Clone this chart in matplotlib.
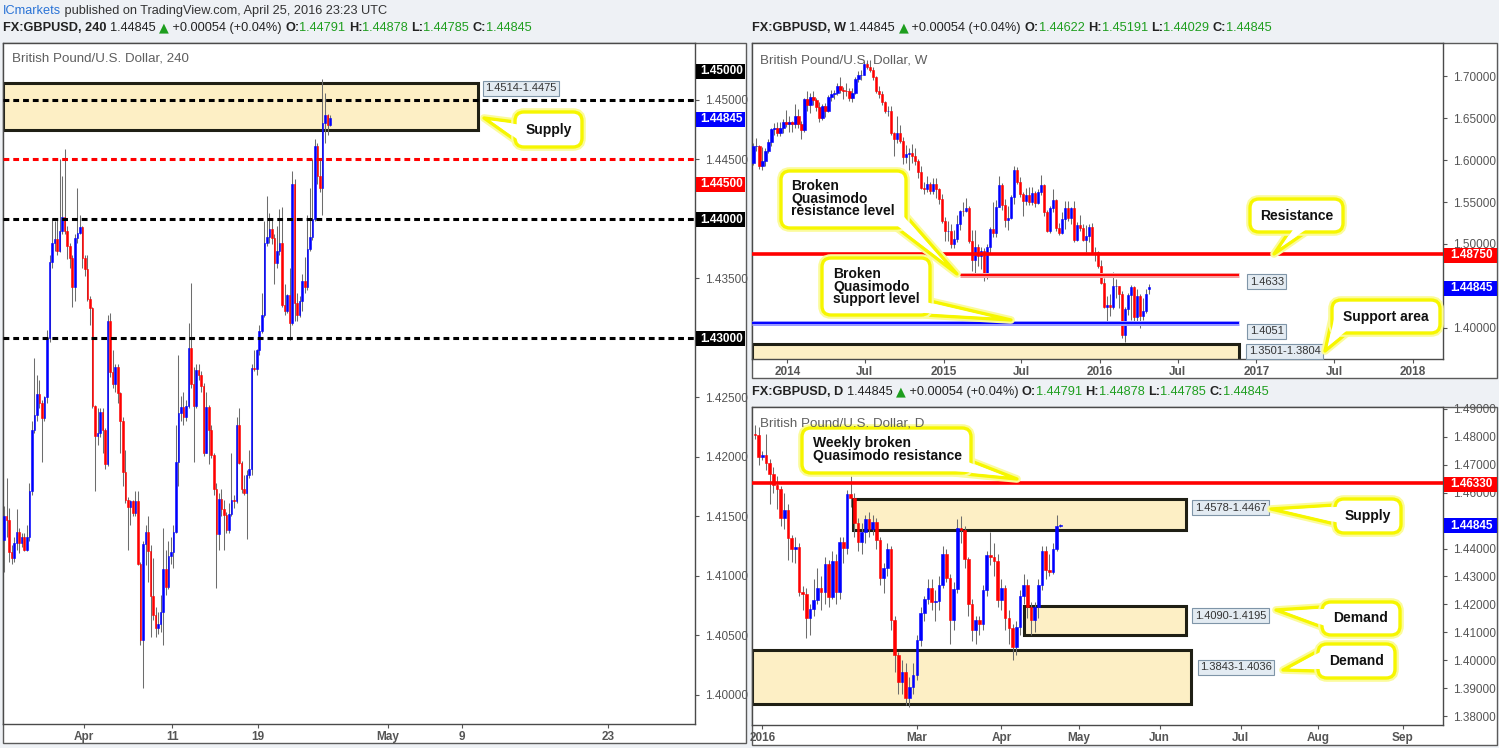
import numpy as np
import pandas as pd
import matplotlib
matplotlib.use('Agg')
import matplotlib.pyplot as plt
from matplotlib.patches import Rectangle, FancyBboxPatch, Polygon
import matplotlib.patheffects as pe

# ====================== DATA ======================
# ---- 4H chart (FX:GBPUSD, 240) ----
h4_first_open = 1.4130
h4_close = [1.4150, 1.4147, 1.4120, 1.4115, 1.4128, 1.4137, 1.4128, 1.4133, 1.4122, 1.4133,
            1.4171, 1.4223, 1.4235, 1.4253, 1.4245, 1.4233, 1.4250, 1.4300, 1.4364, 1.4380,
            1.4383, 1.4373, 1.4390, 1.4402, 1.4390, 1.4377, 1.4367, 1.4343, 1.4384, 1.4388,
            1.4393, 1.4367, 1.4358, 1.4333, 1.4325, 1.4243, 1.4218, 1.4220, 1.4238, 1.4223,
            1.4194, 1.4314, 1.4271, 1.4261, 1.4276, 1.4254, 1.4230, 1.4187, 1.4164, 1.4158,
            1.4163, 1.4153, 1.4163, 1.4110, 1.4046, 1.4127, 1.4137, 1.4121, 1.4083, 1.4067,
            1.4056, 1.4060, 1.4070, 1.4106, 1.4091, 1.4117, 1.4120, 1.4137, 1.4196, 1.4237,
            1.4242, 1.4234, 1.4243, 1.4292, 1.4261, 1.4243, 1.4273, 1.4269, 1.4260, 1.4203,
            1.4242, 1.4223, 1.4202, 1.4173, 1.4135, 1.4165, 1.4156, 1.4151, 1.4139, 1.4152,
            1.4164, 1.4163, 1.4227, 1.4195, 1.4173, 1.4170, 1.4185, 1.4190, 1.4275, 1.4274,
            1.4290, 1.4306, 1.4319, 1.4380, 1.4385, 1.4392, 1.4384, 1.4363, 1.4373, 1.4380,
            1.4328, 1.4323, 1.4336, 1.4313, 1.4429, 1.4329, 1.4319, 1.4331, 1.4348, 1.4343,
            1.4375, 1.4385, 1.4400, 1.4461, 1.4436, 1.4426, 1.4481, 1.4487, 1.44791, 1.44845]
h4_high = [1.4159, 1.4182, 1.4157, 1.4126, 1.4133, 1.4156, 1.4140, 1.4136, 1.4136, 1.4143,
           1.4178, 1.4230, 1.4283, 1.4269, 1.4265, 1.4248, 1.4251, 1.4307, 1.4370, 1.4401,
           1.4398, 1.4401, 1.4450, 1.4436, 1.4459, 1.4394, 1.4380, 1.4370, 1.4387, 1.4426,
           1.4403, 1.4394, 1.4370, 1.4370, 1.4335, 1.4326, 1.4244, 1.4241, 1.4241, 1.4241,
           1.4224, 1.4319, 1.4321, 1.4290, 1.4278, 1.4278, 1.4255, 1.4234, 1.4206, 1.4166,
           1.4164, 1.4164, 1.4171, 1.4171, 1.4112, 1.4129, 1.4143, 1.4150, 1.4126, 1.4115,
           1.4074, 1.4070, 1.4084, 1.4140, 1.4122, 1.4129, 1.4133, 1.4143, 1.4227, 1.4286,
           1.4251, 1.4255, 1.4248, 1.4313, 1.4346, 1.4276, 1.4278, 1.4278, 1.4272, 1.4262,
           1.4255, 1.4244, 1.4227, 1.4203, 1.4178, 1.4170, 1.4173, 1.4164, 1.4154, 1.4161,
           1.4203, 1.4168, 1.4234, 1.4241, 1.4197, 1.4185, 1.4189, 1.4206, 1.4278, 1.4290,
           1.4291, 1.4311, 1.4338, 1.4398, 1.4419, 1.4405, 1.4401, 1.4387, 1.4394, 1.4408,
           1.4410, 1.4345, 1.4337, 1.4359, 1.4440, 1.4434, 1.4338, 1.4335, 1.4354, 1.4368,
           1.4403, 1.4426, 1.4450, 1.4467, 1.4464, 1.4450, 1.4518, 1.4506, 1.4488, 1.44878]
h4_low = [1.4103, 1.4133, 1.4112, 1.4110, 1.4112, 1.4122, 1.4119, 1.4124, 1.4121, 1.4121,
          1.4129, 1.4168, 1.4220, 1.4230, 1.4241, 1.4196, 1.4230, 1.4245, 1.4297, 1.4359,
          1.4373, 1.4370, 1.4372, 1.4387, 1.4387, 1.4366, 1.4359, 1.4326, 1.4331, 1.4380,
          1.4387, 1.4359, 1.4352, 1.4331, 1.4311, 1.4241, 1.4171, 1.4210, 1.4217, 1.4203,
          1.4190, 1.4192, 1.4267, 1.4258, 1.4255, 1.4245, 1.4203, 1.4176, 1.4161, 1.4122,
          1.4143, 1.4150, 1.4150, 1.4109, 1.4042, 1.4006, 1.4109, 1.4095, 1.4049, 1.4063,
          1.4049, 1.4051, 1.4053, 1.4042, 1.4084, 1.4089, 1.4110, 1.4107, 1.4136, 1.4176,
          1.4230, 1.4227, 1.4230, 1.4241, 1.4258, 1.4196, 1.4241, 1.4265, 1.4255, 1.4201,
          1.4203, 1.4194, 1.4199, 1.4168, 1.4090, 1.4122, 1.4150, 1.4122, 1.4136, 1.4136,
          1.4150, 1.4157, 1.4161, 1.4194, 1.4170, 1.4168, 1.4131, 1.4182, 1.4185, 1.4272,
          1.4269, 1.4286, 1.4304, 1.4318, 1.4377, 1.4380, 1.4379, 1.4345, 1.4359, 1.4370,
          1.4326, 1.4319, 1.4321, 1.4298, 1.4311, 1.4314, 1.4314, 1.4318, 1.4323, 1.4338,
          1.4340, 1.4373, 1.4382, 1.4398, 1.4429, 1.4423, 1.4403, 1.4464, 1.4471, 1.44785]
h4_tick_pos = [31.7, 66.5, 100.5, 152.0, 181.2, 239.0]
h4_tick_labels = ['Apr', '11', '19', 'May', '9', '23']
h4_yticks = [1.400, 1.405, 1.410, 1.415, 1.420, 1.425, 1.430, 1.435, 1.440, 1.445, 1.450]
h4_levels = [1.4500, 1.4450, 1.4400, 1.4300]
h4_level_colors = ['#000000', '#ff0000', '#000000', '#000000']
h4_supply = (1.4475, 1.4514)
h4_tags = [(1.45252, '1.45000', '#000000'), (1.44845, '1.44845', '#0000ff'),
           (1.4430, '1.44500', '#ff0000'), (1.4400, '1.44000', '#000000'),
           (1.4300, '1.43000', '#000000')]

# ---- Weekly chart ----
wk_start = '2013-10-14'
wk_first_open = 1.5965
wk_last_open = 1.44622
wk_close = [1.6170, 1.6170, 1.5935, 1.5990, 1.6110, 1.6220, 1.6370, 1.6380, 1.6320, 1.6380, 1.6460, 1.6430,
            1.6450, 1.6430, 1.6530, 1.6430, 1.6360, 1.6730, 1.6660, 1.6750, 1.6720, 1.6630,
            1.6500, 1.6640, 1.6580, 1.6750, 1.6790, 1.6800, 1.6880, 1.6840, 1.6830, 1.6820,
            1.6740, 1.6800, 1.6970, 1.7010, 1.7020, 1.7150, 1.7110, 1.7080, 1.6990, 1.6830,
            1.6790, 1.6690, 1.6590, 1.6590, 1.6320, 1.6250, 1.6320, 1.6230, 1.6040, 1.6070,
            1.6090, 1.6050, 1.5990, 1.5860, 1.5670, 1.5650, 1.5710, 1.5630, 1.5710, 1.5650,
            1.5540, 1.5275,
            1.5160, 1.5160, 1.4995, 1.5060, 1.5240, 1.5395, 1.5390, 1.5430, 1.5035, 1.4810,
            1.4960, 1.4860, 1.4920, 1.4625, 1.4960, 1.5180, 1.5130, 1.5445, 1.5700, 1.5470,
            1.5280, 1.5310, 1.5560, 1.5880, 1.5740, 1.5600, 1.5510, 1.5580, 1.5500, 1.5610,
            1.5490, 1.5620, 1.5700, 1.5380, 1.5160, 1.5430, 1.5520, 1.5190, 1.5135, 1.5300,
            1.5430, 1.5310, 1.5430, 1.5050, 1.5230, 1.5190, 1.5045, 1.5090, 1.5200, 1.4906,
            1.4900, 1.4736,
            1.4530, 1.4253, 1.4266, 1.4248, 1.4498, 1.4499, 1.4400, 1.3908, 1.4226, 1.4391,
            1.4486, 1.4134, 1.4380, 1.4138, 1.4196, 1.4404, 1.44845]
wk_high = [1.6200, 1.6260, 1.6180, 1.6160, 1.6150, 1.6250, 1.6380, 1.6440, 1.6460, 1.6460, 1.6490, 1.6600,
           1.6530, 1.6470, 1.6670, 1.6610, 1.6470, 1.6740, 1.6820, 1.6800, 1.6820, 1.6740,
           1.6690, 1.6670, 1.6680, 1.6780, 1.6840, 1.6840, 1.6920, 1.6990, 1.6870, 1.6920,
           1.6860, 1.6860, 1.6990, 1.7060, 1.7070, 1.7180, 1.7190, 1.7190, 1.7110, 1.7000,
           1.6880, 1.6830, 1.6710, 1.6640, 1.6640, 1.6330, 1.6530, 1.6420, 1.6280, 1.6180,
           1.6140, 1.6190, 1.6150, 1.6010, 1.5930, 1.5740, 1.5810, 1.5740, 1.5790, 1.5790,
           1.5670, 1.5590,
           1.5320, 1.5270, 1.5240, 1.5170, 1.5350, 1.5410, 1.5500, 1.5550, 1.5450, 1.5170,
           1.5170, 1.5000, 1.4960, 1.4950, 1.5000, 1.5200, 1.5500, 1.5520, 1.5810, 1.5730,
           1.5530, 1.5450, 1.5580, 1.5930, 1.5920, 1.5800, 1.5620, 1.5670, 1.5680, 1.5680,
           1.5630, 1.5650, 1.5820, 1.5710, 1.5410, 1.5450, 1.5660, 1.5530, 1.5250, 1.5380,
           1.5510, 1.5510, 1.5440, 1.5510, 1.5260, 1.5340, 1.5240, 1.5230, 1.5240, 1.5250,
           1.4960, 1.4920,
           1.4810, 1.4590, 1.4380, 1.4400, 1.4668, 1.4580, 1.4500, 1.4440, 1.4250, 1.4420,
           1.4510, 1.4500, 1.4460, 1.4400, 1.4350, 1.4460, 1.4519]
wk_low = [1.5940, 1.6110, 1.5890, 1.5880, 1.5930, 1.6080, 1.6170, 1.6300, 1.6290, 1.6290, 1.6320, 1.6390,
          1.6340, 1.6340, 1.6380, 1.6380, 1.6250, 1.6340, 1.6590, 1.6560, 1.6660, 1.6590,
          1.6460, 1.6480, 1.6520, 1.6570, 1.6700, 1.6730, 1.6780, 1.6800, 1.6730, 1.6770,
          1.6700, 1.6690, 1.6790, 1.6930, 1.6960, 1.7010, 1.7090, 1.7050, 1.6960, 1.6800,
          1.6740, 1.6660, 1.6560, 1.6530, 1.6300, 1.6050, 1.6200, 1.6200, 1.5950, 1.5960,
          1.5880, 1.5960, 1.5940, 1.5790, 1.5660, 1.5590, 1.5620, 1.5590, 1.5600, 1.5550,
          1.5480, 1.5250,
          1.5030, 1.5040, 1.4950, 1.4950, 1.5020, 1.5170, 1.5330, 1.5380, 1.5010, 1.4680,
          1.4640, 1.4740, 1.4700, 1.4560, 1.4580, 1.4880, 1.5080, 1.5080, 1.5440, 1.5410,
          1.5200, 1.5170, 1.5300, 1.5480, 1.5720, 1.5560, 1.5330, 1.5460, 1.5460, 1.5460,
          1.5440, 1.5480, 1.5580, 1.5330, 1.5140, 1.5130, 1.5380, 1.5150, 1.5110, 1.5120,
          1.5180, 1.5270, 1.5240, 1.5020, 1.5030, 1.5160, 1.5030, 1.4900, 1.5020, 1.4890,
          1.4800, 1.4710,
          1.4520, 1.4240, 1.4080, 1.4140, 1.4220, 1.4360, 1.4240, 1.3880, 1.3835, 1.4150,
          1.4090, 1.4050, 1.4060, 1.4000, 1.4090, 1.4170, 1.4403]
wk_yticks = [1.40, 1.45, 1.50, 1.55, 1.60, 1.65, 1.70]
wk_tick_dates = ['2014-01-01', '2014-07-01', '2015-01-01', '2015-07-01', '2016-01-01',
                 '2016-07-01', '2017-01-01', '2017-07-01', '2018-01-01']
wk_tick_labels = ['2014', 'Jul', '2015', 'Jul', '2016', 'Jul', '2017', 'Jul', '2018']
wk_resistance = 1.4875
wk_bqm_res = 1.4633
wk_bqm_sup = 1.4051
wk_support_area = (1.3501, 1.3804)

# ---- Daily chart ----
d_end = '2016-04-25'
d_first_open = 1.4810
d_close = [1.4805, 1.4727, 1.4735, 1.4704, 1.4668, 1.4626, 1.4614, 1.4510, 1.4537, 1.4436,
           1.4400, 1.4406, 1.4245, 1.4236, 1.4150, 1.4183, 1.4215, 1.4260, 1.4243, 1.4346,
           1.4227, 1.4355, 1.4245, 1.4424, 1.4402, 1.4596, 1.4581, 1.4493, 1.4424, 1.4460,
           1.4507, 1.4471, 1.4495, 1.4429, 1.4295, 1.4329, 1.4398, 1.4144, 1.4019, 1.3921,
           1.3960, 1.3864, 1.3906, 1.3948, 1.4073, 1.4168, 1.4219, 1.4260, 1.4210, 1.4212,
           1.4271, 1.4379, 1.4295, 1.4144, 1.4255, 1.4474, 1.4465, 1.4364, 1.4200, 1.4108,
           1.4144, 1.4129, 1.4251, 1.4376, 1.4370, 1.4355, 1.4215, 1.4260, 1.4152, 1.4117,
           1.4049, 1.4120, 1.4231, 1.4269, 1.4192, 1.4144, 1.4192, 1.4271, 1.4390, 1.4323,
           1.4317, 1.4398, 1.44791, 1.44845]
d_high = [1.4840, 1.4835, 1.4750, 1.4811, 1.4720, 1.4690, 1.4660, 1.4625, 1.4600, 1.4560,
          1.4450, 1.4440, 1.4420, 1.4265, 1.4260, 1.4200, 1.4290, 1.4330, 1.4300, 1.4370,
          1.4360, 1.4390, 1.4380, 1.4440, 1.4440, 1.4610, 1.4668, 1.4600, 1.4510, 1.4490,
          1.4520, 1.4530, 1.4520, 1.4510, 1.4440, 1.4350, 1.4420, 1.4410, 1.4160, 1.4030,
          1.4000, 1.3990, 1.3940, 1.3990, 1.4090, 1.4190, 1.4230, 1.4290, 1.4290, 1.4250,
          1.4300, 1.4410, 1.4400, 1.4310, 1.4280, 1.4507, 1.4515, 1.4480, 1.4370, 1.4220,
          1.4160, 1.4160, 1.4270, 1.4390, 1.4460, 1.4420, 1.4380, 1.4290, 1.4270, 1.4180,
          1.4130, 1.4140, 1.4250, 1.4310, 1.4290, 1.4210, 1.4210, 1.4290, 1.4410, 1.4410,
          1.4380, 1.4420, 1.4519, 1.44878]
d_low = [1.4790, 1.4700, 1.4715, 1.4680, 1.4560, 1.4600, 1.4540, 1.4480, 1.4470, 1.4360,
         1.4352, 1.4350, 1.4230, 1.4180, 1.4080, 1.4090, 1.4160, 1.4200, 1.4180, 1.4200,
         1.4190, 1.4220, 1.4200, 1.4220, 1.4350, 1.4380, 1.4550, 1.4440, 1.4390, 1.4380,
         1.4420, 1.4440, 1.4450, 1.4400, 1.4270, 1.4240, 1.4300, 1.4110, 1.3960, 1.3880,
         1.3880, 1.3840, 1.3835, 1.3880, 1.3930, 1.4050, 1.4140, 1.4200, 1.4180, 1.4140,
         1.4180, 1.4260, 1.4280, 1.4060, 1.4110, 1.4240, 1.4420, 1.4330, 1.4160, 1.4070,
         1.4060, 1.4090, 1.4110, 1.4230, 1.4340, 1.4300, 1.4190, 1.4180, 1.4110, 1.4060,
         1.4001, 1.4020, 1.4090, 1.4200, 1.4150, 1.4090, 1.4100, 1.4150, 1.4250, 1.4290,
         1.4300, 1.4310, 1.4390, 1.44785]
d_yticks = [1.38, 1.39, 1.40, 1.41, 1.42, 1.43, 1.44, 1.45, 1.46, 1.47, 1.48, 1.49]
d_tick_dates = ['2016-01-01', '2016-03-01', '2016-04-01', '2016-05-01', '2016-06-01',
                '2016-07-01', '2016-08-01', '2016-09-01']
d_tick_labels = ['2016', 'Mar', 'Apr', 'May', 'Jun', 'Jul', 'Aug', 'Sep']
d_resistance = 1.4633
d_supply = (1.4467, 1.4578)
d_demand1 = (1.4090, 1.4195)
d_demand2 = (1.3843, 1.4036)

# ====================== FIGURE ======================
W, H = 1499, 748
fig = plt.figure(figsize=(W / 100, H / 100), dpi=100)
fig.patch.set_facecolor('#eef1f5')

SANS = ['Liberation Sans', 'DejaVu Sans']
UP, DN, WICK = '#0000ff', '#ff0000', '#6d6d6d'
CREAM = '#fdefc5'
GREEN = '#1e9e1e'
GREY = '#555555'


def px_axes(x0, y0, x1, y1, z=1):
    return fig.add_axes([x0 / W, 1 - y1 / H, (x1 - x0) / W, (y1 - y0) / H], zorder=z)


bg = fig.add_axes([0, 0, 1, 1], zorder=0)
bg.set_xlim(0, W); bg.set_ylim(H, 0); bg.axis('off')
for (x0, y0, x1, y1) in [(3, 42.5, 746, 743), (752, 42.5, 1497, 378), (752, 406.5, 1497, 745)]:
    bg.add_patch(Rectangle((x0, y0), x1 - x0, y1 - y0, fc='white', ec='#5a5a5a', lw=1))

ax4 = px_axes(3, 43, 695, 724, 2)
axw = px_axes(752, 43, 1443, 359, 2)
axd = px_axes(752, 407, 1443, 725, 2)

ov = fig.add_axes([0, 0, 1, 1], zorder=10)
ov.set_xlim(0, W); ov.set_ylim(H, 0); ov.axis('off')
ov.patch.set_alpha(0)


def candles(ax, opens, highs, lows, closes, width):
    o, h, l, c = (np.asarray(v, float) for v in (opens, highs, lows, closes))
    x = np.arange(len(c))
    cols = np.where(c >= o, UP, DN)
    ax.vlines(x, l, h, color=WICK, lw=0.75, zorder=3)
    ax.bar(x, np.abs(c - o), bottom=np.minimum(o, c), width=width, color=cols,
           edgecolor=cols, linewidth=0.4, zorder=4)


def style(ax, xt, xl, yt, hidden=()):
    ax.set_facecolor('white')
    ax.set_xticks(xt); ax.set_xticklabels(xl)
    ax.set_yticks(yt)
    ax.set_yticklabels(['' if any(abs(v - hv) < 1e-9 for hv in hidden) else f'{v:.5f}' for v in yt])
    ax.yaxis.tick_right()
    ax.tick_params(axis='both', colors=GREY, length=3, width=0.8, labelsize=8.5)
    ax.tick_params(axis='y', pad=4)
    ax.tick_params(axis='x', pad=2)
    for t in ax.get_yticklabels():
        t.set_fontfamily(SANS)
    for t in ax.get_xticklabels():
        t.set_fontfamily(SANS); t.set_fontweight('bold')
    for s in ax.spines.values():
        s.set_color('#4a4a4a'); s.set_linewidth(1)


def to_px(ax, x, y):
    X, Y = ax.transData.transform((x, y))
    return X, H - Y


def zone(ax, x0, x1, lo, hi):
    ax.add_patch(Rectangle((x0, lo), x1 - x0, hi - lo, fc=CREAM, ec='#1f1f14', lw=2.2, zorder=1))


# ---------------- 4H ----------------
h4_open = [h4_first_open] + h4_close[:-1]
ax4.set_xlim(-0.4, 273.4); ax4.set_ylim(1.39756, 1.45479)
zone(ax4, -0.4, 187.6, *h4_supply)
candles(ax4, h4_open, h4_high, h4_low, h4_close, 0.62)
for lv, col in zip(h4_levels, h4_level_colors):
    ax4.axhline(lv, color=col, lw=2.2, dashes=(1.9, 1.3), zorder=5)
style(ax4, h4_tick_pos, h4_tick_labels, h4_yticks, hidden=(1.44, 1.43))

# ---------------- Weekly ----------------
wk_open = [wk_first_open] + wk_close[:-1]
wk_open[-1] = wk_last_open
wk_dates = pd.date_range(start=wk_start, periods=len(wk_close), freq='7D')
axw.set_xlim(-0.5, 230.1); axw.set_ylim(1.3627, 1.7397)
zone(axw, -0.5, 161.9, *wk_support_area)
candles(axw, wk_open, wk_high, wk_low, wk_close, 0.75)
axw.axhline(wk_resistance, color='#ff0000', lw=2.6, zorder=5)
axw.plot([68.9, 161.9], [wk_bqm_res] * 2, color='#f3a0a0', lw=3.6, solid_capstyle='butt', zorder=5)
axw.plot([68.9, 161.9], [wk_bqm_res] * 2, color='#ff0000', lw=1.4, solid_capstyle='butt', zorder=6)
axw.plot([-0.5, 161.9], [wk_bqm_sup] * 2, color='#9a9aff', lw=3.6, solid_capstyle='butt', zorder=5)
axw.plot([-0.5, 161.9], [wk_bqm_sup] * 2, color='#0000ff', lw=1.4, solid_capstyle='butt', zorder=6)
wk_tick_pos = [(pd.Timestamp(d) - wk_dates[0]).days / 7 for d in wk_tick_dates]
style(axw, wk_tick_pos, wk_tick_labels, wk_yticks, hidden=(1.45,))

# ---------------- Daily ----------------
d_open = [d_first_open] + d_close[:-1]
d_dates = pd.bdate_range(end=d_end, periods=len(d_close))
d_ext = pd.bdate_range(start=d_dates[0], end='2016-09-30')
axd.set_xlim(-0.8, 187.0); axd.set_ylim(1.3769, 1.4906)
zone(axd, 26.6, 117.1, *d_supply)
zone(axd, 73.1, 117.1, *d_demand1)
zone(axd, -0.8, 118.5, *d_demand2)
candles(axd, d_open, d_high, d_low, d_close, 0.72)
axd.axhline(d_resistance, color='#ff0000', lw=2.6, zorder=5)
d_tick_pos = [int(np.searchsorted(d_ext.values, np.datetime64(d))) for d in d_tick_dates]
style(axd, d_tick_pos, d_tick_labels, d_yticks, hidden=(1.45,))

# ====================== OVERLAY ======================
renderer = fig.canvas.get_renderer()


def rich(x, y, parts, size=9.2):
    for s, c, w, fam in parts:
        t = ov.text(x, y, s, color=c, fontweight=w, fontsize=size, family=fam,
                    va='center', ha='left', zorder=30)
        x += t.get_window_extent(renderer).width


def header(x, y, tf, o, h, l, c):
    parts = [(f'FX:GBPUSD, {tf} ', '#222222', 'bold', SANS), ('1.44845 ', '#222222', 'normal', SANS),
             ('\u25b2', GREEN, 'normal', ['DejaVu Sans']),
             (' +0.00054 (+0.04%) ', '#222222', 'normal', SANS),
             ('O:', '#222222', 'bold', SANS), (o + ' ', GREEN, 'normal', SANS),
             ('H:', '#222222', 'bold', SANS), (h + ' ', GREEN, 'normal', SANS),
             ('L:', '#222222', 'bold', SANS), (l + ' ', GREEN, 'normal', SANS),
             ('C:', '#222222', 'bold', SANS), (c, GREEN, 'normal', SANS)]
    rich(x, y, parts)


rich(3, 10.5, [('ICmarkets', '#2a73d6', 'normal', SANS),
               (' published on TradingView.com, April 25, 2016 23:23 UTC', '#333333', 'normal', SANS)])
header(3, 27.5, '240', '1.44791', '1.44878', '1.44785', '1.44845')
header(752, 28, 'W', '1.44622', '1.45191', '1.44029', '1.44845')
header(752, 392, 'D', '1.44791', '1.44878', '1.44785', '1.44845')

for (x, y, s) in [(12, 58.5, 'British Pound/U.S. Dollar, 240'), (760, 60, 'British Pound/U.S. Dollar, W'),
                  (760, 423, 'British Pound/U.S. Dollar, D')]:
    ov.text(x, y, s, color='#5f5f5f', fontsize=9.6, family=SANS, va='center', ha='left', zorder=30)


def price_tag(ax, price, text, color, x0, x1):
    _, y = to_px(ax, 0, price)
    y += 1
    ov.add_patch(Rectangle((x0, y - 7.5), x1 - x0, 15, fc=color, ec='none', zorder=15))
    ov.text((x0 + x1) / 2 + 1, y, text, ha='center', va='center', color='white', fontsize=8.5,
            fontweight='bold', family=SANS, zorder=16)


for p, s, c in h4_tags:
    price_tag(ax4, p, s, c, 696, 745)
price_tag(axw, wk_resistance, '1.48750', '#ff0000', 1444, 1497)
price_tag(axw, d_close[-1], '1.44845', '#0000ff', 1444, 1497)
price_tag(axd, d_resistance, '1.46330', '#ff0000', 1444, 1497)
price_tag(axd, d_close[-1], '1.44845', '#0000ff', 1444, 1497)


def info(x, y, s):
    ov.text(x, y, s, ha='left', va='center', fontsize=8, color='#333333', family=SANS, zorder=15,
            bbox=dict(boxstyle='square,pad=0.22', fc='#e3ebf2', ec='#7f95a8', lw=0.8))


xr, yt = to_px(ax4, 187.6, h4_supply[1])
info(xr + 7, yt + 5, f'{h4_supply[1]:.4f}-{h4_supply[0]:.4f}')
xr, yv = to_px(axw, 161.9, wk_bqm_res)
info(xr + 11, yv + 7, f'{wk_bqm_res:.4f}')
xr, yv = to_px(axw, 161.9, wk_bqm_sup)
info(xr + 11, yv + 8, f'{wk_bqm_sup:.4f}')
xr, yv = to_px(axw, 161.9, wk_support_area[1])
info(xr + 10, yv + 7, f'{wk_support_area[0]:.4f}-{wk_support_area[1]:.4f}')
xr, yv = to_px(axd, 117.1, d_supply[1])
info(xr + 9, yv + 9, f'{d_supply[1]:.4f}-{d_supply[0]:.4f}')
xr, yv = to_px(axd, 117.1, d_demand1[1])
info(xr + 9, yv + 10, f'{d_demand1[0]:.4f}-{d_demand1[1]:.4f}')
xr, yv = to_px(axd, 118.5, d_demand2[1])
info(xr + 9, yv + 17, f'{d_demand2[0]:.4f}-{d_demand2[1]:.4f}')

YEL = '#f6f600'
GLOW = [pe.Stroke(linewidth=5.5, foreground='#fbfb9a'), pe.Normal()]


def callout(box, b1, b2, tip, text, txy, ha='center'):
    x0, y0, x1, y1 = box
    ov.add_patch(Polygon([b1, tip, b2], closed=True, fc='white', ec=YEL, lw=2.4,
                         joinstyle='round', zorder=20, path_effects=GLOW))
    ov.add_patch(FancyBboxPatch((x0, y0), x1 - x0, y1 - y0, boxstyle='round,pad=0,rounding_size=9',
                                fc='white', ec=YEL, lw=2.4, zorder=21, path_effects=GLOW))
    A, B, C = np.array(b1, float), np.array(tip, float), np.array(b2, float)
    a, b, c = np.linalg.norm(B - C), np.linalg.norm(A - C), np.linalg.norm(A - B)
    I = (a * A + b * B + c * C) / (a + b + c)
    area = abs((B - A)[0] * (C - A)[1] - (B - A)[1] * (C - A)[0]) / 2
    r = area / ((a + b + c) / 2)
    k = max((r - 2.0) / r, 0.1)
    A2, B2, C2 = I + (A - I) * k, I + (B - I) * k, I + (C - I) * k

    def ext(P):
        v = P - B2
        return P + v / np.linalg.norm(v) * 8

    ov.add_patch(Polygon([ext(A2), B2, ext(C2)], closed=True, fc='white', ec='none', zorder=22))
    ov.text(txy[0], txy[1], text, ha=ha, va='center', fontsize=10, fontweight='bold',
            family=SANS, color='#111111', linespacing=0.85, zorder=23)


# 4H
callout((515, 112, 582, 147), (515, 122), (515, 140), (484, 118), 'Supply', (548.5, 129.5))
# Weekly
callout((781, 171, 906, 228), (897, 228), (906, 216), (957, 274),
        'Broken\nQuasimodo\nresistance level', (791, 198.5), ha='left')
callout((822, 258, 930, 315), (930, 301), (925, 315), (1011, 320),
        'Broken\nQuasimodo\nsupport level', (833, 286.5), ha='left')
callout((1250, 199, 1343, 232), (1289, 232), (1306, 232), (1274, 254), 'Resistance', (1296.5, 215.5))
callout((1332, 300, 1440, 333), (1332, 319), (1347, 333), (1325, 351), 'Support area', (1386, 316.5))
# Daily
callout((802, 428, 971, 473), (971, 461), (955, 473), (1017, 479),
        'Weekly broken\nQuasimodo resistance', (813, 449.5), ha='left')
callout((1335, 499, 1401, 533), (1335, 505), (1335, 524), (1271, 509), 'Supply', (1368, 516))
callout((1322, 602, 1400, 635), (1322, 607), (1322, 627), (1276, 610), 'Demand', (1361, 618.5))
callout((1318, 644, 1395, 678), (1318, 651), (1318, 671), (1283, 670), 'Demand', (1356.5, 661))

fig.savefig('out.png', dpi=100, facecolor=fig.get_facecolor())
